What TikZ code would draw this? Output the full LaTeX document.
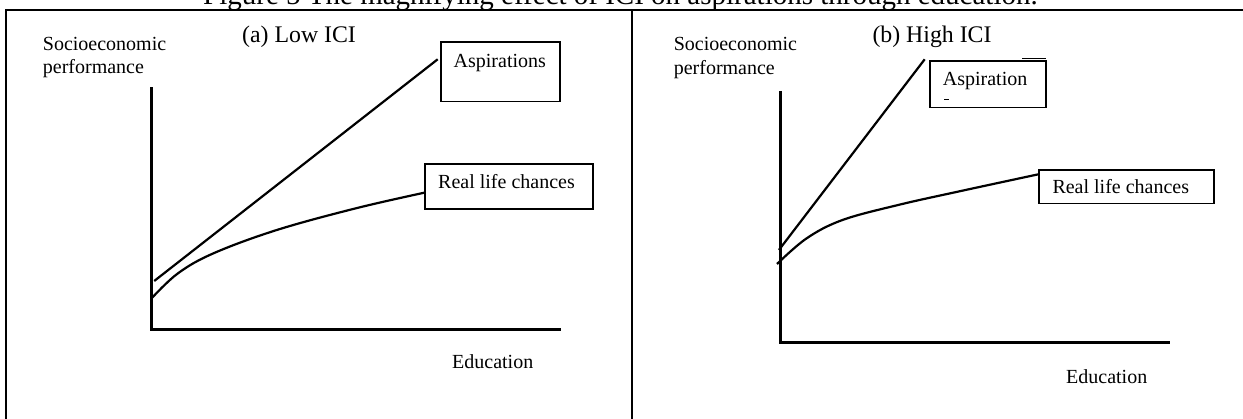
\documentclass[tikz,border=0pt]{standalone}
\usepackage{fontspec}
\setmainfont{Liberation Serif}
\begin{document}
\begin{tikzpicture}[x=1pt,y=-1pt,
  lbl/.style={font=\fontsize{20}{24}\selectfont, inner sep=0pt, anchor=base west},
  head/.style={font=\fontsize{23.8}{28}\selectfont, inner sep=0pt, anchor=base west},
  ttl/.style={font=\fontsize{29}{34}\selectfont, inner sep=0pt, anchor=base},
  box/.style={draw, line width=1.8pt, inner sep=0pt, anchor=north west},
  axisline/.style={line width=3pt},
  curve/.style={line width=2.2pt},
  frameline/.style={line width=2pt}]
\useasboundingbox (0,0) rectangle (1243,419);

% title (cut at top)
\node[ttl] (title) at (620.5,4.5) {Figure 5 The magnifying effect of ICI on aspirations through education.};

% frame
\coordinate (ftl) at (6,10);
\coordinate (ftr) at (1243,10);
\coordinate (fbl) at (6,419);
\coordinate (dtop) at (632,10);
\coordinate (dbot) at (632,419);
\draw[frameline] (fbl) -- (ftl) -- (ftr);
\draw[frameline] (dtop) -- (dbot);

% ---------- panel (a) ----------
\node[lbl] (ysa1) at (42.7,50.5) {Socioeconomic};
\node[lbl] (ysa2) at (42.7,73.8) {performance};
\node[head] (heada) at (242,42.5) {(a) Low ICI};
\coordinate (ya) at (151.4,87.3);
\coordinate (oa) at (151.4,329.3);
\coordinate (xa) at (560.7,329.3);
\draw[axisline] (ya) -- (oa) -- (xa);
\node[lbl] (eda) at (452,368.5) {Education};

\node[box, minimum width=119, minimum height=59.4] (aspa) at (439.7,41.3) {};
\node[lbl] (aspat) at (453.5,68) {Aspirations};
\node[box, minimum width=167.6, minimum height=45] (rlca) at (424.3,163.2) {};
\node[lbl] (rlcat) at (438,188.5) {Real life chances};

\coordinate (aa0) at (154.2,281);
\coordinate (aa1) at (437.7,59.3);
\draw[curve] (aa0) -- (aa1);
\coordinate (ra0) at (152.2,297.7);
\draw[curve] plot[smooth, tension=0.6] coordinates {(ra0) (178,273.3) (213.5,253.3) (276.8,230) (355.9,208.3) (424.3,192.7)};

% ---------- panel (b) ----------
\node[lbl] (ysb1) at (673.6,50.5) {Socioeconomic};
\node[lbl] (ysb2) at (673.6,74.5) {performance};
\node[head] (headb) at (872.3,42.5) {(b) High ICI};
\coordinate (yb) at (780.9,91);
\coordinate (ob) at (780.9,342.7);
\coordinate (xb) at (1169.5,342.7);
\draw[axisline] (yb) -- (ob) -- (xb);
\node[lbl] (edb) at (1066,383.5) {Education};

\node[box, minimum width=116.4, minimum height=46.7] (aspb) at (928.7,60) {};
\node[lbl] (aspbt) at (942.7,85.2) {Aspiration};
\coordinate (aspbs1) at (1022,59);
\coordinate (aspbs2) at (1045.9,59);
\draw[line width=1pt] (aspbs1) -- (aspbs2);
\coordinate (dash1) at (944,99.5);
\coordinate (dash2) at (949,99.5);
\draw[line width=0.8pt] (dash1) -- (dash2);
\node[box, minimum width=174.8, minimum height=33.7] (rlcb) at (1038.4,169) {};
\node[lbl] (rlcbt) at (1052.3,193.8) {Real life chances};

\coordinate (ab0) at (778.9,250);
\coordinate (ab1) at (924.7,59.3);
\draw[curve] (ab0) -- (ab1);
\coordinate (rb0) at (777,264);
\draw[curve] plot[smooth, tension=0.6] coordinates {(rb0) (806.7,238.3) (842.5,220) (898.1,205) (957.7,191.7) (1038.4,174.3)};
\end{tikzpicture}
\end{document}
